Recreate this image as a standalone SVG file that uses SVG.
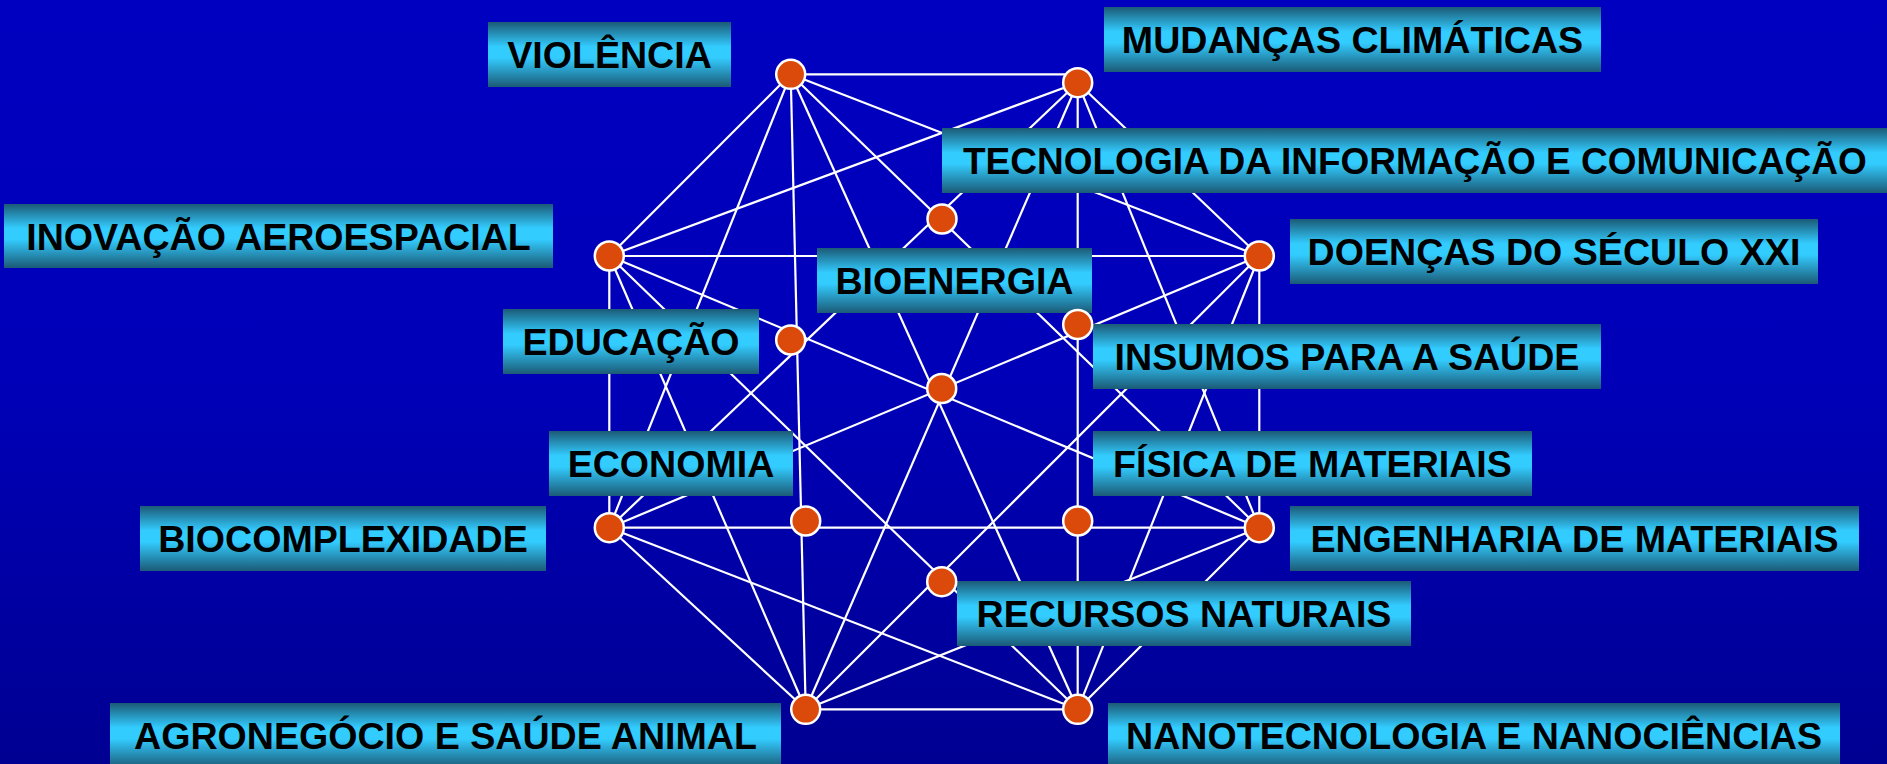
<svg xmlns="http://www.w3.org/2000/svg" width="1887" height="764" viewBox="0 0 1887 764">
<defs>
<linearGradient id="bg" x1="0" y1="0" x2="0" y2="1">
<stop offset="0" stop-color="#0000C0"/>
<stop offset="0.5" stop-color="#0000B8"/>
<stop offset="1" stop-color="#000092"/>
</linearGradient>
<linearGradient id="box" x1="0" y1="0" x2="0" y2="1">
<stop offset="0" stop-color="#1B5A76"/>
<stop offset="0.38" stop-color="#33CCFF"/>
<stop offset="0.55" stop-color="#33CCFF"/>
<stop offset="1" stop-color="#1B5A76"/>
</linearGradient>
<style>
.lbl rect{fill:url(#box)}
.lbl text{font-family:"Liberation Sans",Arial,sans-serif;font-weight:bold;font-size:37.6px;fill:#000;text-anchor:middle}
.dot{fill:#DC4A0B;stroke:#fff;stroke-width:2.5}
#connectors line{stroke:#fff;stroke-width:2.2}
</style>
</defs>
<rect x="0" y="0" width="1887" height="764" fill="url(#bg)"/>
<g id="connectors">
<line x1="790.7" y1="74.3" x2="1077.7" y2="74.3"/>
<line x1="790.7" y1="74.3" x2="609.3" y2="256"/>
<line x1="790.7" y1="74.3" x2="1259.3" y2="256"/>
<line x1="790.7" y1="74.3" x2="609.3" y2="527.7"/>
<line x1="790.7" y1="74.3" x2="1259.3" y2="527.7"/>
<line x1="790.7" y1="74.3" x2="805.7" y2="709.3"/>
<line x1="790.7" y1="74.3" x2="1077.7" y2="709.3"/>
<line x1="1077.7" y1="82.7" x2="609.3" y2="256"/>
<line x1="1077.7" y1="82.7" x2="1259.3" y2="256"/>
<line x1="1077.7" y1="82.7" x2="609.3" y2="527.7"/>
<line x1="1077.7" y1="82.7" x2="1259.3" y2="527.7"/>
<line x1="1077.7" y1="82.7" x2="805.7" y2="709.3"/>
<line x1="1077.7" y1="82.7" x2="1077.7" y2="709.3"/>
<line x1="609.3" y1="256" x2="1259.3" y2="256"/>
<line x1="609.3" y1="256" x2="609.3" y2="527.7"/>
<line x1="609.3" y1="256" x2="1259.3" y2="527.7"/>
<line x1="609.3" y1="256" x2="805.7" y2="709.3"/>
<line x1="609.3" y1="256" x2="1077.7" y2="709.3"/>
<line x1="1259.3" y1="256" x2="609.3" y2="527.7"/>
<line x1="1259.3" y1="256" x2="1259.3" y2="527.7"/>
<line x1="1259.3" y1="256" x2="805.7" y2="709.3"/>
<line x1="1259.3" y1="256" x2="1077.7" y2="709.3"/>
<line x1="609.3" y1="527.7" x2="1259.3" y2="527.7"/>
<line x1="609.3" y1="527.7" x2="805.7" y2="709.3"/>
<line x1="609.3" y1="527.7" x2="1077.7" y2="709.3"/>
<line x1="1259.3" y1="527.7" x2="805.7" y2="709.3"/>
<line x1="1259.3" y1="527.7" x2="1077.7" y2="709.3"/>
<line x1="805.7" y1="709.3" x2="1077.7" y2="709.3"/>
</g>
<g id="violencia" class="lbl"><rect x="488" y="22" width="243" height="65"/><text x="609.5" y="68">VIOLÊNCIA</text><circle class="dot" cx="790.7" cy="74.3" r="14.5"/></g>
<g id="mudancas" class="lbl"><rect x="1104" y="7" width="497" height="65"/><text x="1352.5" y="53">MUDANÇAS CLIMÁTICAS</text><circle class="dot" cx="1077.7" cy="82.7" r="14.5"/></g>
<g id="tic" class="lbl"><rect x="942" y="128" width="963" height="65"/><text x="963" y="174" style="text-anchor:start;font-size:37px">TECNOLOGIA DA INFORMAÇÃO E COMUNICAÇÃO</text><circle class="dot" cx="942" cy="219" r="14.5"/></g>
<g id="aeroespacial" class="lbl"><rect x="4" y="204" width="549" height="64"/><text x="278.5" y="250">INOVAÇÃO AEROESPACIAL</text><circle class="dot" cx="609.3" cy="256" r="14.5"/></g>
<g id="doencas" class="lbl"><rect x="1290" y="219" width="528" height="65"/><text x="1554" y="265">DOENÇAS DO SÉCULO XXI</text><circle class="dot" cx="1259.3" cy="256" r="14.5"/></g>
<g id="bioenergia" class="lbl"><rect x="817" y="248" width="275" height="65"/><text x="954.5" y="294">BIOENERGIA</text><circle class="dot" cx="941.7" cy="388.5" r="14.5"/></g>
<g id="educacao" class="lbl"><rect x="503" y="309" width="256" height="65"/><text x="631" y="355">EDUCAÇÃO</text><circle class="dot" cx="790.7" cy="340" r="14.5"/></g>
<g id="insumos" class="lbl"><rect x="1093" y="324" width="508" height="65"/><text x="1347" y="370">INSUMOS PARA A SAÚDE</text><circle class="dot" cx="1077.7" cy="324.5" r="14.5"/></g>
<g id="economia" class="lbl"><rect x="549" y="431" width="244" height="65"/><text x="671" y="477">ECONOMIA</text><circle class="dot" cx="805.7" cy="521" r="14.5"/></g>
<g id="fisica" class="lbl"><rect x="1093" y="431" width="439" height="65"/><text x="1312.5" y="477">FÍSICA DE MATERIAIS</text><circle class="dot" cx="1077.7" cy="521" r="14.5"/></g>
<g id="biocomplexidade" class="lbl"><rect x="140" y="506" width="406" height="65"/><text x="343" y="552">BIOCOMPLEXIDADE</text><circle class="dot" cx="609.3" cy="527.7" r="14.5"/></g>
<g id="engenharia" class="lbl"><rect x="1290" y="506" width="569" height="65"/><text x="1574.5" y="552">ENGENHARIA DE MATERIAIS</text><circle class="dot" cx="1259.3" cy="527.7" r="14.5"/></g>
<g id="recursos" class="lbl"><rect x="957" y="581" width="454" height="65"/><text x="1184" y="627">RECURSOS NATURAIS</text><circle class="dot" cx="941.7" cy="581.7" r="14.5"/></g>
<g id="agronegocio" class="lbl"><rect x="110" y="703" width="671" height="65"/><text x="445.5" y="749">AGRONEGÓCIO E SAÚDE ANIMAL</text><circle class="dot" cx="805.7" cy="709.3" r="14.5"/></g>
<g id="nanotecnologia" class="lbl"><rect x="1108" y="703" width="732" height="65"/><text x="1474" y="749">NANOTECNOLOGIA E NANOCIÊNCIAS</text><circle class="dot" cx="1077.7" cy="709.3" r="14.5"/></g>
</svg>
